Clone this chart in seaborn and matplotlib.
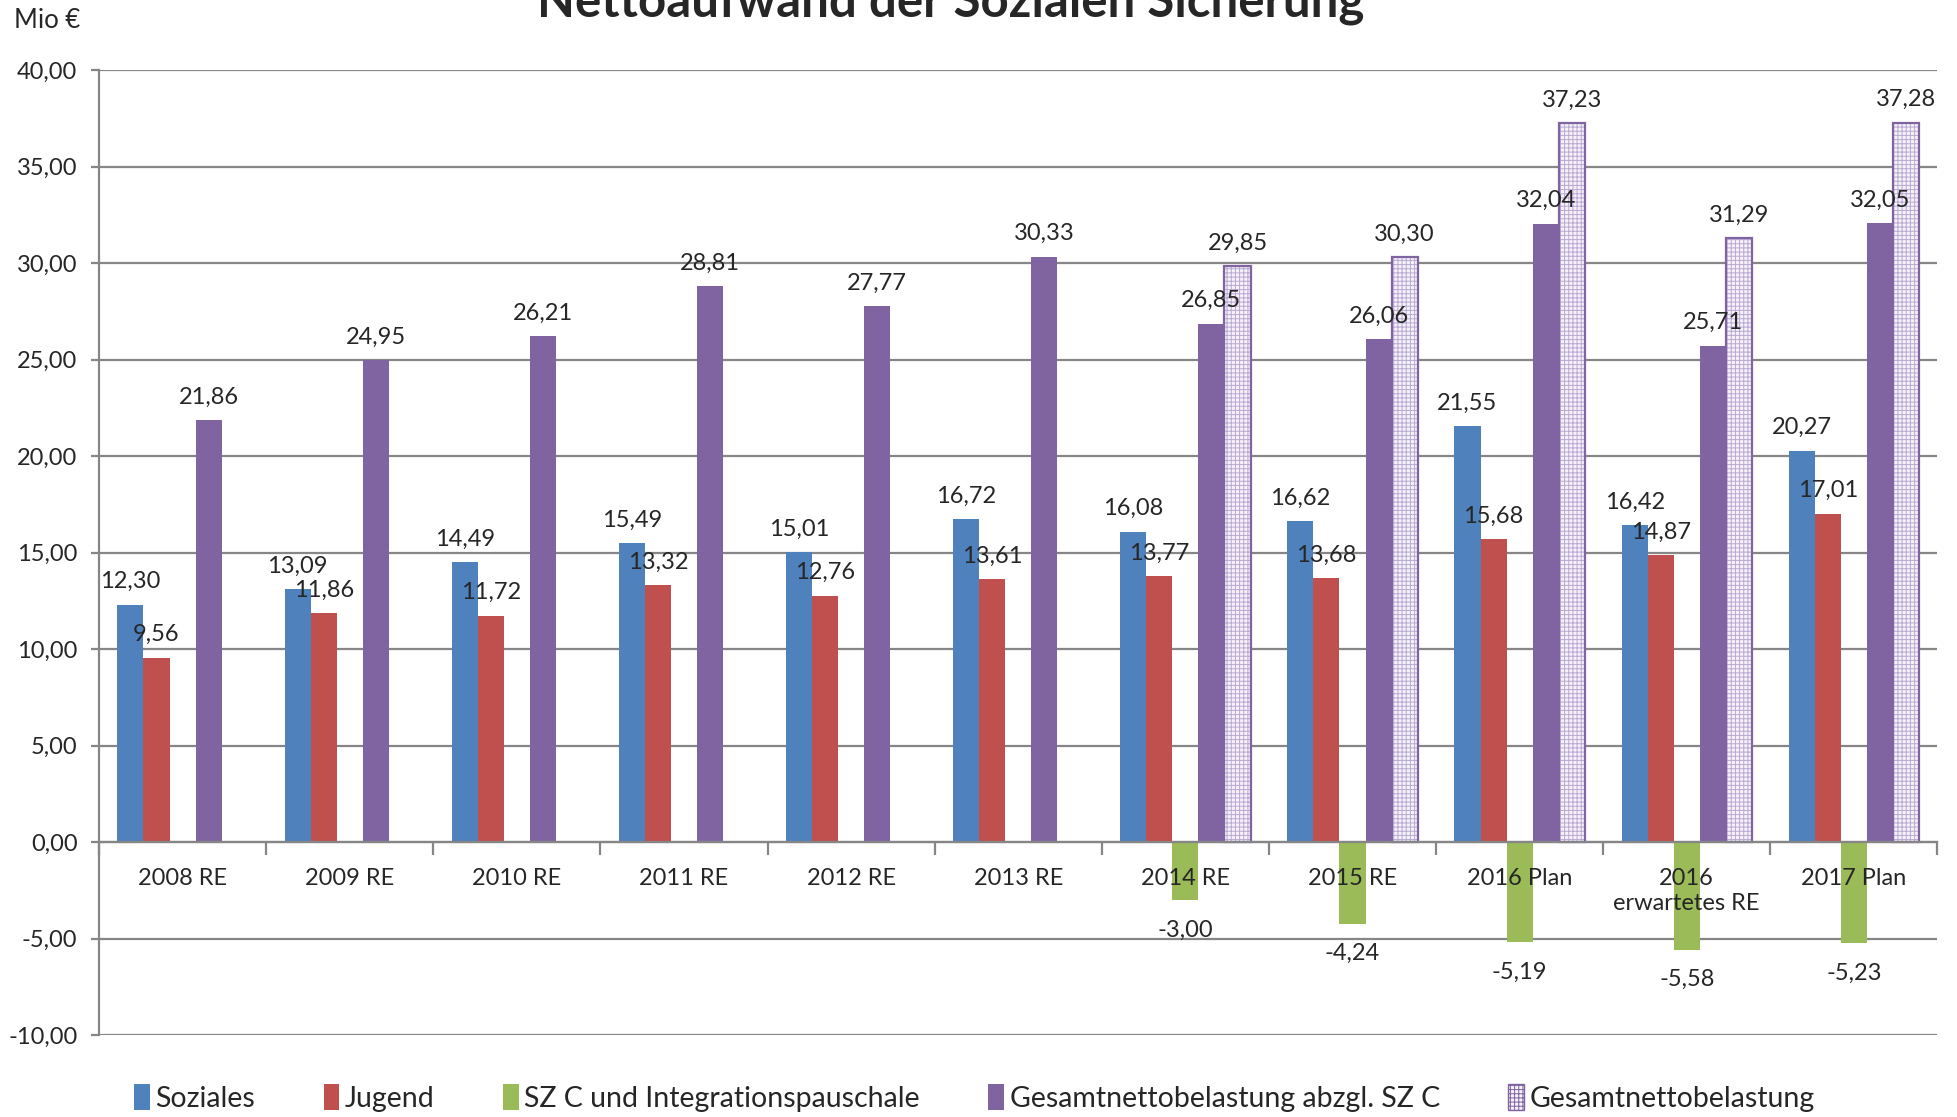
"""Nettoaufwand der Sozialen Sicherung - grouped bar chart."""

import matplotlib.pyplot as plt
import numpy as np
import pandas as pd
import seaborn as sns
from matplotlib.patches import Patch, Rectangle
from matplotlib.ticker import FuncFormatter, MultipleLocator

sns.set_theme(style="white")
plt.rcParams["font.family"] = ["Lato", "DejaVu Sans"]
plt.rcParams["hatch.linewidth"] = 0.7

YEARS = ["2008 RE", "2009 RE", "2010 RE", "2011 RE", "2012 RE", "2013 RE",
         "2014 RE", "2015 RE", "2016 Plan", "2016\nerwartetes RE", "2017 Plan"]
SOZIALES = [12.30, 13.09, 14.49, 15.49, 15.01, 16.72, 16.08, 16.62, 21.55, 16.42, 20.27]
JUGEND = [9.56, 11.86, 11.72, 13.32, 12.76, 13.61, 13.77, 13.68, 15.68, 14.87, 17.01]
SZC = [np.nan] * 6 + [-3.00, -4.24, -5.19, -5.58, -5.23]
GESAMT_ABZGL = [21.86, 24.95, 26.21, 28.81, 27.77, 30.33, 26.85, 26.06, 32.04, 25.71, 32.05]
GESAMT = [np.nan] * 6 + [29.85, 30.30, 37.23, 31.29, 37.28]

SERIES = ["Soziales", "Jugend", "SZ C und Integrationspauschale",
          "Gesamtnettobelastung abzgl. SZ C", "Gesamtnettobelastung"]
COLORS = ["#4F81BD", "#C0504D", "#9BBB59", "#8064A2", "#F4F1F8"]
GRID = "#868686"


def de_fmt(v):
    return f"{v:.2f}".replace(".", ",")


df = pd.DataFrame({
    "Jahr": YEARS * 5,
    "Reihe": np.repeat(SERIES, len(YEARS)),
    "Wert": SOZIALES + JUGEND + SZC + GESAMT_ABZGL + GESAMT,
}).dropna()

fig = plt.figure(figsize=(19.57, 11.17), dpi=100)
ax = fig.add_axes([0.0506, 0.0734, 0.9394, 0.8639])

sns.barplot(data=df, x="Jahr", y="Wert", hue="Reihe", order=YEARS,
            hue_order=SERIES, palette=COLORS, saturation=1, width=0.78,
            errorbar=None, legend=False, ax=ax, linewidth=0)

# hatched "Gesamtnettobelastung" bars with purple outline
for bar in ax.containers[4]:
    bar.set_edgecolor("#B9A9D3")
    bar.set_hatch("++++")
    bar.set_linewidth(0)
    ax.add_patch(Rectangle(bar.get_xy(), bar.get_width(), bar.get_height(),
                           fill=False, edgecolor="#8064A2", linewidth=1.6, zorder=3))

for cont in ax.containers:
    for bar in cont:
        h = bar.get_height()
        if np.isnan(h):
            continue
        x = bar.get_x() + bar.get_width() / 2
        if h >= 0:
            ax.annotate(de_fmt(h), (x, h), xytext=(0, 9), textcoords="offset points",
                        ha="center", va="bottom", fontsize=17)
        else:
            ax.annotate(de_fmt(h), (x, h), xytext=(0, -14), textcoords="offset points",
                        ha="center", va="top", fontsize=17)

ax.set_ylim(-10, 40)
ax.set_xlim(-0.5, len(YEARS) - 0.5)
ax.yaxis.set_major_locator(MultipleLocator(5))
ax.yaxis.set_major_formatter(FuncFormatter(lambda v, _: de_fmt(v)))
ax.grid(axis="y", color=GRID, linewidth=1.6)
ax.set_axisbelow(True)
ax.xaxis.set_zorder(5)  # category labels sit on top of the green bars
ax.set_xlabel("")
ax.set_ylabel("")

for side in ("top", "right"):
    ax.spines[side].set_visible(False)
ax.spines["left"].set_color(GRID)
ax.spines["left"].set_linewidth(1.6)
ax.spines["bottom"].set_position(("data", 0))
ax.spines["bottom"].set_color(GRID)
ax.spines["bottom"].set_linewidth(1.6)
ax.spines["bottom"].set_zorder(4)

ax.tick_params(axis="y", which="major", left=True, length=6, width=1.6,
               color=GRID, labelsize=17, pad=9.5)
ax.set_xticks(range(len(YEARS)))
ax.set_xticklabels(YEARS, fontsize=17, linespacing=1.25)
ax.set_xticks(np.arange(-0.5, len(YEARS)), minor=True)
ax.tick_params(axis="x", which="major", length=0, pad=18.5)
ax.tick_params(axis="x", which="minor", bottom=True, length=9, width=1.6,
               color=GRID, direction="out")

fig.text(0.486, 0.985, "Nettoaufwand der Sozialen Sicherung", ha="center",
         va="baseline", fontsize=35.5, fontweight="bold")
fig.text(0.007, 0.982, "Mio €", ha="left", va="center", fontsize=18.5)

handles = [Patch(facecolor=c, edgecolor="none") for c in COLORS[:4]]
handles.append(Patch(facecolor=COLORS[4], edgecolor="#8064A2", hatch="++++"))
fig.legend(handles, SERIES, loc="center", bbox_to_anchor=(0.498, 0.017), ncol=5,
           frameon=False, fontsize=20.5, handlelength=0.55, handleheight=1.0,
           handletextpad=0.2, columnspacing=2.4)

fig.savefig("out.png", dpi=100)
